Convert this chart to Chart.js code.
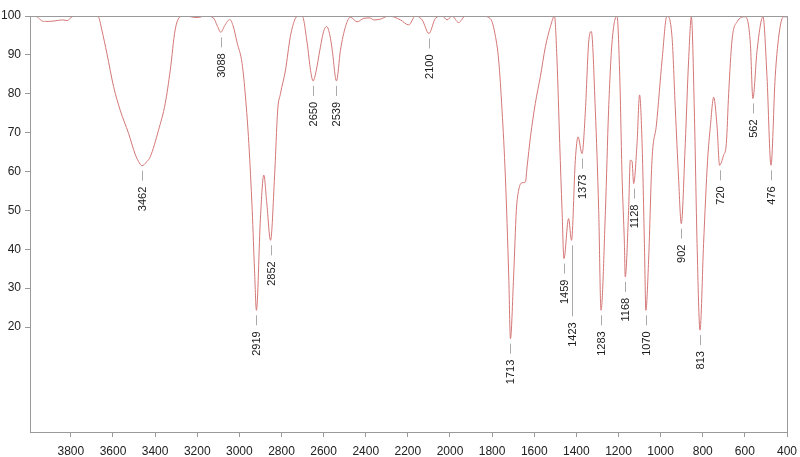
<!DOCTYPE html>
<html>
<head>
<meta charset="utf-8">
<script src="https://cdn.jsdelivr.net/npm/chart.js@4/dist/chart.umd.min.js"></script>
<style>
  body { margin: 0; background: #fff; }
</style>
</head>
<body>
<canvas id="irChart" width="800" height="457"></canvas>
<script>
// wavenumber (cm-1) from left to right
const wavenumbers = [
  3994, 3960, 3940, 3920, 3880, 3840, 3815, 3800, 3780, 3700, 3670, 3653, 3629, 3597, 3566,
  3526, 3495, 3479, 3462, 3440, 3423, 3384, 3352, 3328, 3305, 3281, 3260, 3200, 3160,
  3123, 3105, 3088, 3070, 3045, 3030, 3010, 2987, 2971, 2955, 2939, 2928, 2919, 2900, 2884,
  2870, 2852, 2833, 2818, 2805, 2781, 2758, 2734, 2718, 2702, 2678, 2662, 2650, 2635, 2618,
  2600, 2586, 2570, 2559, 2539, 2520, 2496, 2473, 2441, 2409, 2380, 2362, 2330, 2290, 2235,
  2196, 2164, 2132, 2100, 2069, 2037, 2014, 1990, 1959, 1927, 1850, 1808, 1784, 1769, 1753,
  1737, 1721, 1713, 1698, 1685, 1674, 1658, 1642, 1634, 1618, 1595, 1571, 1547, 1523, 1504,
  1492, 1479, 1468, 1459, 1437, 1423, 1405, 1392, 1373, 1357, 1342, 1329, 1310, 1294, 1283,
  1262, 1247, 1231, 1207, 1194, 1183, 1172, 1168, 1152, 1144, 1136, 1128, 1112, 1100, 1088,
  1077, 1070, 1057, 1041, 1020, 993, 970, 946, 930, 915, 902, 883, 867, 854, 840,
  827, 813, 796, 777, 764, 748, 732, 720, 701, 688, 677, 661, 637, 598, 574,
  562, 542, 514, 495, 476, 456, 435, 416, 400
]
// transmittance (%)
const transmittance = [
  100, 99.8, 98.8, 98.6, 98.7, 99.0, 98.8, 99.6, 100, 100, 99.8, 96.4, 90.4, 81.8, 75.8,
  69.8, 64.5, 62.6, 61.5, 62.5, 63.8, 70.6, 77.5, 86.1, 96.4, 99.8, 100, 99.6, 100,
  99.5, 97.5, 95.8, 97.5, 99.1, 97.5, 93, 87.8, 79.2, 67.2, 50, 34.6, 24.3, 48, 59.1,
  52, 42.3, 58.6, 75.8, 80, 86.1, 94.7, 99.4, 100, 100, 93, 86, 83.3, 86, 91.2,
  96, 97.3, 95, 91.2, 83.3, 91.2, 97.3, 99.7, 98.5, 99.4, 99.5, 99, 99.2, 100, 99,
  97.7, 100, 99, 95.5, 99.4, 100, 99, 100, 98.3, 100, 100, 99.3, 94.7, 88.7, 75.8,
  58.6, 32.9, 17, 32.9, 50, 55.2, 57.1, 57.3, 61.2, 68.9, 77.5, 84.4, 92.1, 97.3, 100,
  88.7, 67.2, 50, 37.6, 47.9, 42.3, 62.9, 68.9, 64.6, 75.8, 93, 96, 75.8, 50, 24.3,
  50, 75.8, 93, 100, 84.4, 58.6, 41.5, 32.9, 50, 62.9, 62.7, 56.9, 67.2, 79.7, 67.2,
  41.5, 24.3, 37.2, 62.9, 72, 88.7, 100, 94.7, 75.8, 58.6, 46.6, 67.2, 88.7, 99.8, 75.8,
  41.5, 19.2, 41.5, 62.9, 71.5, 79.1, 71.5, 61.6, 64.2, 67.2, 80, 93.8, 98.5, 99.8, 93,
  78.8, 91.2, 99.8, 84.4, 61.6, 84.4, 96.4, 99.8, 99.8
]
const peakLabels = [3462, 3088, 2919, 2852, 2650, 2539, 2100, 1713, 1459, 1423, 1373, 1283, 1168, 1128, 1070, 902, 813, 720, 562, 476]
const xTicks = [3800, 3600, 3400, 3200, 3000, 2800, 2600, 2400, 2200, 2000, 1800, 1600, 1400, 1200, 1000, 800, 600, 400]
const yTicks = [20, 30, 40, 50, 60, 70, 80, 90, 100]

const points = wavenumbers.map((w, i) => ({ x: w, y: transmittance[i] }))

// box round the plot area
const frame = {
  id: 'frame',
  afterDraw(chart) {
    const { ctx, chartArea: a } = chart
    ctx.save()
    ctx.strokeStyle = '#9a9a9a'
    ctx.lineWidth = 1
    ctx.strokeRect(a.left + 0.5, a.top + 0.5, a.right - a.left, a.bottom - a.top)
    ctx.restore()
  }
}

// vertical peak labels under each minimum
const peaks = {
  id: 'peaks',
  afterDatasetsDraw(chart) {
    const { ctx } = chart
    const xs = chart.scales.x
    const ys = chart.scales.y
    ctx.save()
    ctx.font = '11px "Liberation Sans", Arial, sans-serif'
    ctx.fillStyle = '#1a1a1a'
    ctx.strokeStyle = '#aaaaaa'
    ctx.lineWidth = 1
    peakLabels.forEach(w => {
      const i = wavenumbers.indexOf(w)
      const px = Math.round(xs.getPixelForValue(w)) + 0.5
      const py = ys.getPixelForValue(transmittance[i])
      const extra = w === 1423 ? 61 : 0
      ctx.beginPath()
      ctx.moveTo(px, py + 5)
      ctx.lineTo(px, py + 15 + extra)
      ctx.stroke()
      ctx.save()
      ctx.translate(px, py + 21 + extra)
      ctx.rotate(-Math.PI / 2)
      ctx.textAlign = 'right'
      ctx.textBaseline = 'middle'
      ctx.fillText(String(w), 0, 0)
      ctx.restore()
    })
    ctx.restore()
  }
}

new Chart(document.getElementById('irChart'), {
  type: 'line',
  data: {
    datasets: [{
      data: points,
      borderColor: '#d47676',
      borderWidth: 1,
      pointRadius: 0,
      fill: false,
      cubicInterpolationMode: 'monotone'
    }]
  },
  options: {
    responsive: false,
    animation: false,
    layout: { padding: { top: 16, right: 13, left: 0, bottom: 0 } },
    plugins: { legend: { display: false }, tooltip: { enabled: false } },
    scales: {
      x: {
        type: 'linear',
        reverse: true,
        min: 400,
        max: 3994,
        afterBuildTicks: s => { s.ticks = xTicks.map(v => ({ value: v })) },
        afterFit: s => { s.height = 25; s.paddingLeft = 0; s.paddingRight = 0 },
        grid: { drawOnChartArea: false, drawTicks: true, tickLength: 5, color: '#9a9a9a' },
        border: { display: true, color: '#9a9a9a' },
        ticks: {
          color: '#222', padding: 7, maxRotation: 0,
          callback: v => String(v),
          font: { family: '"Liberation Sans", Arial, sans-serif', size: 12 }
        }
      },
      y: {
        min: -7,
        max: 100,
        afterBuildTicks: s => { s.ticks = yTicks.map(v => ({ value: v })) },
        afterFit: s => { s.width = 30 },
        grid: { drawOnChartArea: false, drawTicks: true, tickLength: 5, color: '#9a9a9a' },
        border: { display: true, color: '#9a9a9a' },
        ticks: {
          color: '#222', padding: 4,
          callback: v => String(v),
          font: { family: '"Liberation Sans", Arial, sans-serif', size: 12 }
        }
      }
    }
  },
  plugins: [frame, peaks]
})
</script>
</body>
</html>
